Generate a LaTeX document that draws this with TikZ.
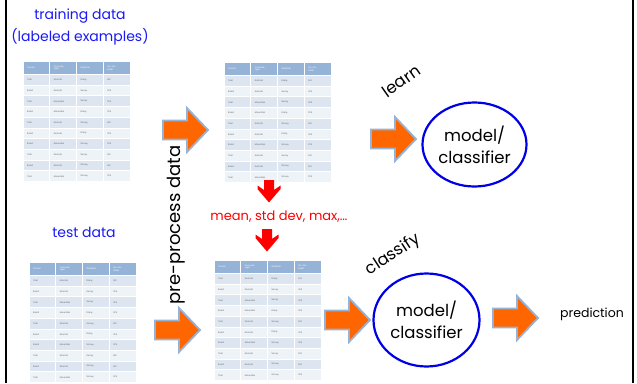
\documentclass[tikz,border=0pt]{standalone}
\usepackage{fontspec}
\setmainfont{Poppins}
\usetikzlibrary{shapes.geometric}
\definecolor{hdr}{HTML}{95B3D7}
\definecolor{rowA}{HTML}{DCE5F0}
\definecolor{rowB}{HTML}{EEF3F8}
\definecolor{arrfill}{HTML}{FF6600}
\definecolor{arrline}{HTML}{95B3D7}
\definecolor{titleblue}{HTML}{1A1AF5}
\definecolor{circblue}{HTML}{0000E6}
\definecolor{cellgray}{HTML}{606060}
\tikzset{
  blockarrow/.style={fill=arrfill, draw=arrline, line width=1.8pt, line join=miter},
  redarrow/.style={fill=red, draw=none},
  bluetitle/.style={text=titleblue, inner sep=0pt, font=\fontsize{14}{17}\selectfont},
  modelnode/.style={ellipse, draw=circblue, line width=2.2pt, align=center, inner sep=0pt, font=\fontsize{16.5}{22}\selectfont},
  cell/.style={inner sep=0pt, anchor=west, text=cellgray, font=\fontsize{2.2}{2.6}\selectfont},
  hcell/.style={inner sep=0pt, anchor=west, text=white, align=left, font=\fontsize{2.2}{2.6}\selectfont},
  plain/.style={inner sep=0pt}
}
\newcommand\datatable[3]{%
  \begin{scope}[shift={(#1,#2)}]
    \foreach \c [count=\ci from 0] in {Terrain,Unicycle-\\type,Weather,Go-For-\\Ride?} {
      \fill[hdr] (\ci*26.75+0.5,0) rectangle ++(25.75,12);
      \node[hcell] (#3-h-\ci) at (\ci*26.75+4,6) {\c};
    }
    \foreach \a/\b/\cc/\d/\col [count=\r from 0] in {
      Trail/Normal/Rainy/NO/rowA, Road/Normal/Sunny/YES/rowB,
      Trail/Mountain/Sunny/YES/rowA, Road/Mountain/Rainy/YES/rowB,
      Trail/Normal/Snowy/NO/rowA, Road/Normal/Rainy/YES/rowB,
      Road/Mountain/Snowy/YES/rowA, Trail/Normal/Sunny/NO/rowB,
      Road/Normal/Snowy/NO/rowA, Trail/Mountain/Snowy/YES/rowB} {
      \foreach \ci in {0,...,3} {
        \fill[\col] (\ci*26.75+0.5,12+\r*10.7+1) rectangle ++(25.75,9.7);
      }
      \node[cell] (#3-\r-0) at (0*26.75+4,12+\r*10.7+5.9) {\a};
      \node[cell] (#3-\r-1) at (1*26.75+4,12+\r*10.7+5.9) {\b};
      \node[cell] (#3-\r-2) at (2*26.75+4,12+\r*10.7+5.9) {\cc};
      \node[cell] (#3-\r-3) at (3*26.75+4,12+\r*10.7+5.9) {\d};
    }
  \end{scope}}
\newcommand\bigarrow[2]{%
  \draw[blockarrow] (#1,#2+12.5) -- (#1+24,#2+12.5) -- (#1+24,#2) -- (#1+45,#2+22)
    -- (#1+24,#2+44) -- (#1+24,#2+31.5) -- (#1,#2+31.5) -- cycle;}
\newcommand\reddown[2]{%
  \fill[redarrow] (#1-5,#2) -- (#1+5,#2) -- (#1+5,#2+10) -- (#1+11.5,#2+5.5) -- (#1+11.5,#2+9)
    -- (#1,#2+22.5) -- (#1-11.5,#2+9) -- (#1-11.5,#2+5.5) -- (#1-5,#2+10) -- cycle;}
\begin{document}
\begin{tikzpicture}[x=1pt,y=-1pt]
  \useasboundingbox (0,0) rectangle (637,383);
  \fill[white] (0,0) rectangle (637,383);
  % frame lines
  \draw[line width=2pt] (6,0) -- (6,383);
  \draw[line width=2pt] (633,0) -- (633,383);
  % tables
  \datatable{23}{62}{ta}
  \datatable{224}{63}{tb}
  \datatable{214}{261}{tc}
  \datatable{29}{263}{td}
  % block arrows
  \bigarrow{163}{108}
  \bigarrow{371}{117}
  \bigarrow{155}{308}
  \bigarrow{325}{298}
  \bigarrow{493}{296}
  % red arrows
  \reddown{269}{180}
  \reddown{267}{229}
  % titles
  \node[bluetitle] (train) at (80,16) {training data};
  \node[bluetitle] (labeled) at (80,36.5) {(labeled examples)};
  \node[bluetitle] (test) at (84,232) {test data};
  \node[plain, rotate=90, font=\fontsize{18}{20}\selectfont] (pre) at (176,225) {pre-process data};
  \node[plain, text=red, font=\fontsize{13}{15}\selectfont] (stats) at (279,217) {mean, std dev, max,…};
  \node[plain, rotate=35, font=\fontsize{16.5}{18}\selectfont] (learn) at (401,81) {learn};
  \node[plain, rotate=33, font=\fontsize{16.5}{18}\selectfont] (classify) at (393,255) {classify};
  \node[plain, font=\fontsize{12.5}{15}\selectfont] (pred) at (592,314) {prediction};
  % models
  \node[modelnode, minimum width=104pt, minimum height=84pt] (m1) at (474.5,144.5) {model/\\classifier};
  \node[modelnode, minimum width=106pt, minimum height=93pt] (m2) at (426.5,320) {model/\\classifier};
\end{tikzpicture}
\end{document}
